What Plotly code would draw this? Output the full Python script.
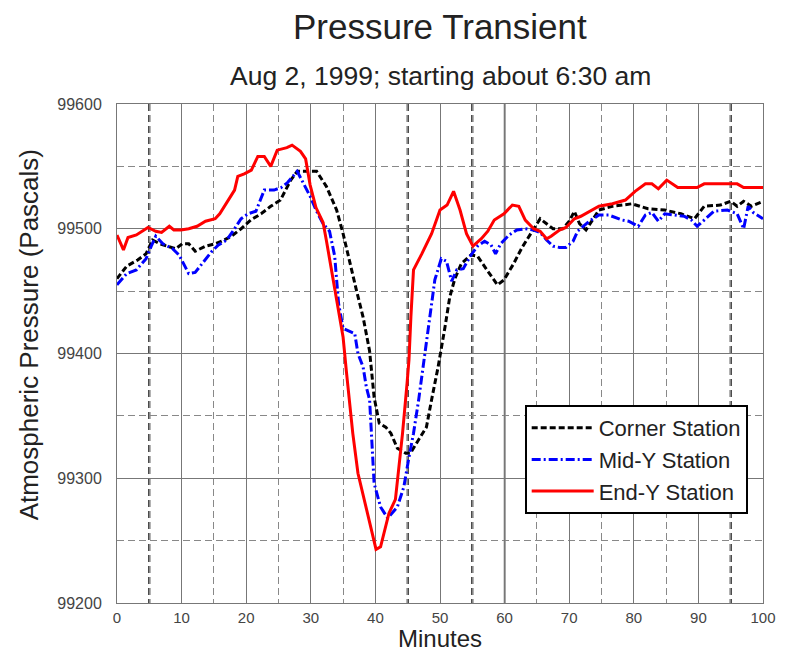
import plotly.graph_objects as go

# ---------------- data ----------------
corner_t = [0, 1.5, 3.2, 4.5, 5.5, 6.6, 7.8, 9.1, 10.1, 11.1, 12.1, 13.7, 15.2, 16.2, 17.7,
            19.2, 20.7, 22.3, 23.8, 25.3, 26.9, 27.9, 29.9, 30.9, 32.4, 34, 35, 35.8, 37.05,
            38.1, 39.1, 39.8, 40.6, 41.6, 42.4, 43.4, 44.7, 45.4, 46.7, 47.9, 48.7, 49.7,
            50.8, 51.5, 52.3, 53.3, 54.8, 55.8, 57.4, 58.9, 59.9, 61.4, 62.7, 64.5, 65.5,
            66.5, 67.5, 69, 70, 70.8, 71.6, 72.6, 74.6, 76.7, 79.7, 82.2, 84.8, 87.3, 89.4,
            90.9, 93.4, 95, 96, 97, 98.2, 100]
corner_p = [99460, 99470, 99475, 99480, 99491, 99488, 99486, 99484, 99488, 99488, 99482, 99486,
            99488, 99490, 99494, 99500, 99507, 99512, 99518, 99523, 99539, 99546, 99546, 99546,
            99534, 99515, 99496, 99478, 99451, 99429, 99402, 99365, 99344, 99341, 99336, 99324,
            99320, 99320, 99331, 99341, 99363, 99389, 99422, 99445, 99460, 99472, 99479, 99478,
            99466, 99455, 99459, 99472, 99485, 99500, 99508, 99504, 99500, 99500, 99506, 99514,
            99504, 99499, 99515, 99518, 99520, 99516, 99515, 99512, 99508, 99518, 99519, 99522,
            99518, 99522, 99518, 99522]

midy_t = [0, 1.5, 3, 4.5, 5.3, 6, 7.1, 8.6, 9.6, 11.1, 12.1, 13.7, 14.7, 15.7, 17, 18.2, 19.2,
          20.3, 21.5, 22.8, 24.3, 25.4, 26.4, 27.9, 28.9, 29.9, 30.9, 31.9, 32.9, 33.7, 34.3,
          35, 36.8, 37.3, 38.1, 38.6, 39.1, 39.8, 40.8, 41.9, 43.4, 44.4, 45.2, 45.9, 46.7,
          47.7, 48.7, 49.2, 50.2, 51, 51.8, 52.6, 53.6, 54.8, 55.8, 56.9, 57.9, 58.6, 59.4,
          60.7, 61.9, 63.2, 64.5, 65.5, 66.5, 67.5, 68.5, 69.5, 70.6, 71.3, 73.1, 74.6, 76.1,
          78.2, 79.2, 80.7, 81.8, 82.8, 83.8, 84.8, 86.3, 87.8, 88.9, 89.8, 90.9, 92.4, 94.5,
          96, 97, 97.7, 98.5, 100]
midy_p = [99455, 99464, 99467, 99476, 99486, 99494, 99488, 99484, 99479, 99464, 99465, 99475,
          99482, 99487, 99491, 99500, 99508, 99512, 99514, 99531, 99531, 99533, 99537, 99546,
          99536, 99526, 99514, 99504, 99498, 99478, 99440, 99420, 99416, 99400, 99389, 99373,
          99363, 99296, 99277, 99268, 99277, 99293, 99317, 99336, 99363, 99403, 99443, 99459,
          99476, 99474, 99458, 99467, 99468, 99479, 99486, 99490, 99487, 99480, 99488, 99495,
          99499, 99500, 99499, 99497, 99491, 99486, 99485, 99485, 99490, 99498, 99506, 99511,
          99511, 99507, 99506, 99502, 99511, 99513, 99506, 99512, 99511, 99510, 99507, 99502,
          99507, 99514, 99515, 99512, 99500, 99518, 99513, 99508]

endy_t = [0, 1, 1.7, 3, 4.8, 6, 6.9, 8.1, 8.8, 9.9, 11.1, 12.4, 13.7, 15.2, 15.9, 16.7, 17.5,
          18.2, 18.7, 19.7, 20.8, 21.8, 22.8, 23.8, 24.8, 26.3, 27.1, 28.4, 29.2, 29.9, 30.8,
          31.9, 32.4, 32.9, 34, 35, 35.5, 36.5, 37.3, 38.3, 39.6, 40.1, 40.8, 42.1, 43.1, 44.2,
          44.9, 45.2, 45.5, 45.9, 47.2, 48.7, 50, 51.1, 52.1, 53.1, 54.1, 55.1, 56.4, 57.4,
          58.4, 59.9, 61.2, 62.2, 63.2, 64.5, 65.5, 66.5, 67.2, 68.5, 69.5, 70.8, 71.8, 74.6,
          76.7, 78.7, 80.2, 81.8, 82.8, 83.8, 85.1, 86.8, 89.8, 90.9, 96, 97, 100]
endy_p = [99495, 99483, 99493, 99495, 99501, 99498, 99497, 99502, 99499, 99499, 99500, 99502,
          99506, 99508, 99512, 99519, 99526, 99531, 99542, 99544, 99547, 99558, 99558, 99550,
          99563, 99565, 99567, 99562, 99556, 99535, 99517, 99505, 99491, 99476, 99444, 99413,
          99386, 99336, 99304, 99283, 99256, 99243, 99245, 99272, 99283, 99336, 99376, 99395,
          99430, 99467, 99480, 99496, 99515, 99519, 99530, 99515, 99496, 99486, 99492, 99498,
          99507, 99512, 99519, 99518, 99507, 99500, 99498, 99492, 99494, 99499, 99501, 99508,
          99510, 99518, 99520, 99523, 99530, 99536, 99536, 99532, 99539, 99533, 99533, 99536,
          99536, 99533, 99533]

series_names = ["Corner Station", "Mid-Y Station", "End-Y Station"]
x_ticks = [0, 10, 20, 30, 40, 50, 60, 70, 80, 90, 100]
y_ticks = [99200, 99300, 99400, 99500, 99600]
dark_dashed_x = [5, 45, 55, 95]
dark_solid_x = [60]

FONT = "Liberation Sans, Arial, Helvetica, sans-serif"

fig = go.Figure()
fig.add_trace(go.Scatter(x=corner_t, y=corner_p, mode="lines", name=series_names[0],
                         line=dict(color="#000000", width=3, dash="6px,3px")))
fig.add_trace(go.Scatter(x=midy_t, y=midy_p, mode="lines", name=series_names[1],
                         line=dict(color="#0000ff", width=3, dash="9px,3px,2px,3px")))
fig.add_trace(go.Scatter(x=endy_t, y=endy_p, mode="lines", name=series_names[2],
                         line=dict(color="#ff0000", width=3)))

for xv in dark_dashed_x:
    fig.add_shape(type="line", xref="x", yref="paper", x0=xv, x1=xv, y0=1, y1=0,
                  line=dict(color="#000000", width=2, dash="7px,4px"), layer="below")
for xv in dark_solid_x:
    fig.add_shape(type="line", xref="x", yref="paper", x0=xv, x1=xv, y0=1, y1=0,
                  line=dict(color="#000000", width=1.5), layer="below")

axis_common = dict(showline=True, linecolor="#777777", linewidth=1, mirror=True,
                   showgrid=True, gridcolor="#777777", gridwidth=1, zeroline=False,
                   ticks="")

fig.update_xaxes(range=[0, 100], tickvals=x_ticks, ticktext=[str(v) for v in x_ticks],
                 tickfont=dict(family=FONT, size=15, color="#444444"),
                 minor=dict(dtick=5, tick0=0, showgrid=True, gridcolor="#888888",
                            griddash="7px,4px", gridwidth=1),
                 ticklabelstandoff=1, **axis_common)
fig.update_yaxes(range=[99200, 99600], tickvals=y_ticks, ticktext=[str(v) for v in y_ticks],
                 tickfont=dict(family=FONT, size=16, color="#444444"),
                 minor=dict(dtick=50, tick0=99200, showgrid=True, gridcolor="#888888",
                            griddash="7px,4px", gridwidth=1),
                 ticklabelstandoff=11, **axis_common)

def px_y(py):
    return (603 - py) / 499.0

def px_x(pxx):
    return (pxx - 117) / 656.0

annotations = [
    dict(text="Pressure Transient", x=0.5, y=px_y(27), xref="paper", yref="paper",
         xanchor="center", yanchor="middle", showarrow=False,
         font=dict(family=FONT, size=35, color="#222222")),
    dict(text="Aug 2, 1999; starting about 6:30 am", x=0.5, y=px_y(76), xref="paper",
         yref="paper", xanchor="center", yanchor="middle", showarrow=False,
         font=dict(family=FONT, size=26.5, color="#222222")),
    dict(text="Minutes", x=0.5, y=px_y(638), xref="paper", yref="paper",
         xanchor="center", yanchor="middle", showarrow=False,
         font=dict(family=FONT, size=24, color="#222222")),
    dict(text="Atmospheric Pressure (Pascals)", x=px_x(28), y=px_y(335), xref="paper",
         yref="paper", xanchor="center", yanchor="middle", textangle=-90, showarrow=False,
         font=dict(family=FONT, size=26, color="#222222")),
]

fig.update_layout(
    width=788, height=651,
    margin=dict(l=117, r=15, t=104, b=48),
    paper_bgcolor="white", plot_bgcolor="white",
    font=dict(family=FONT, color="#222222"),
    annotations=annotations,
    showlegend=True,
    legend=dict(x=px_x(531), y=px_y(405), xanchor="left", yanchor="top",
                bgcolor="white", bordercolor="#000000", borderwidth=2,
                font=dict(family=FONT, size=22, color="#222222"),
                itemwidth=62, tracegroupgap=0),
)

fig.write_html("out.html")
